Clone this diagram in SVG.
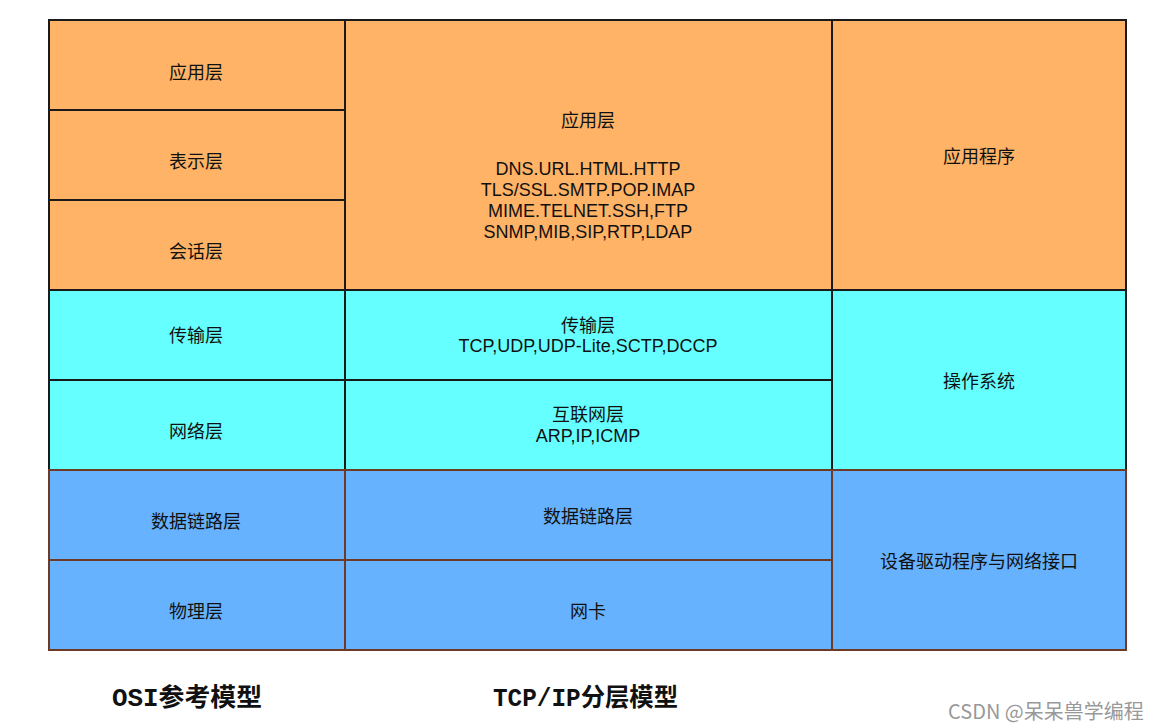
<svg xmlns="http://www.w3.org/2000/svg" width="1155" height="728" viewBox="0 0 1155 728">
<style>
.o{fill:#FFB366;stroke:#1a1a1a;stroke-width:2}
.c{fill:#66FFFF;stroke:#1a1a1a;stroke-width:2}
.b{fill:#66B2FF;stroke:#6f3a24;stroke-width:2}
text{font-family:"Liberation Sans","Noto Sans CJK SC",sans-serif;font-size:18px;fill:#111;text-anchor:middle;dominant-baseline:central}
.cap{font-family:"Liberation Mono","Noto Sans CJK SC",monospace;font-size:25px;font-weight:bold;text-anchor:start}
.wm{font-family:"Noto Sans CJK SC",sans-serif;font-size:20px;fill:#999;text-anchor:start}
</style>
<rect width="1155" height="728" fill="#fff"/>
<g id="osi-app"><rect class="o" x="49" y="20" width="296" height="90"/><text x="196" y="73">应用层</text></g>
<g id="osi-pres"><rect class="o" x="49" y="110" width="296" height="90"/><text x="196" y="162">表示层</text></g>
<g id="osi-sess"><rect class="o" x="49" y="200" width="296" height="90"/><text x="196" y="252">会话层</text></g>
<g id="osi-trans"><rect class="c" x="49" y="290" width="296" height="90"/><text x="196" y="336">传输层</text></g>
<g id="osi-net"><rect class="c" x="49" y="380" width="296" height="90"/><text x="196" y="432">网络层</text></g>
<g id="osi-dl"><rect class="b" x="49" y="470" width="296" height="90"/><text x="196" y="522">数据链路层</text></g>
<g id="osi-phy"><rect class="b" x="49" y="560" width="296" height="90"/><text x="196" y="612">物理层</text></g>

<g id="tcp-app"><rect class="o" x="345" y="20" width="487" height="270"/>
<text x="588" y="121">应用层</text>
<text x="588" y="169">DNS.URL.HTML.HTTP</text>
<text x="588" y="190">TLS/SSL.SMTP.POP.IMAP</text>
<text x="588" y="211">MIME.TELNET.SSH,FTP</text>
<text x="588" y="232">SNMP,MIB,SIP,RTP,LDAP</text></g>
<g id="tcp-trans"><rect class="c" x="345" y="290" width="487" height="90"/>
<text x="588" y="326">传输层</text><text x="588" y="346">TCP,UDP,UDP-Lite,SCTP,DCCP</text></g>
<g id="tcp-inet"><rect class="c" x="345" y="380" width="487" height="90"/>
<text x="588" y="415">互联网层</text><text x="588" y="436">ARP,IP,ICMP</text></g>
<g id="tcp-dl"><rect class="b" x="345" y="470" width="487" height="90"/><text x="588" y="517">数据链路层</text></g>
<g id="tcp-nic"><rect class="b" x="345" y="560" width="487" height="90"/><text x="588" y="612">网卡</text></g>

<g id="r-app"><rect class="o" x="832" y="20" width="294" height="270"/><text x="979" y="157">应用程序</text></g>
<g id="r-os"><rect class="c" x="832" y="290" width="294" height="180"/><text x="979" y="382">操作系统</text></g>
<g id="r-dev"><rect class="b" x="832" y="470" width="294" height="180"/><text x="979" y="562">设备驱动程序与网络接口</text></g>

<g id="connectors"></g>
<text class="cap" x="112" y="699" textLength="150" lengthAdjust="spacingAndGlyphs">OSI参考模型</text>
<text class="cap" x="493" y="699" textLength="185" lengthAdjust="spacingAndGlyphs">TCP/IP分层模型</text>
<text class="wm" x="948" y="710">CSDN @呆呆兽学编程</text>
</svg>
